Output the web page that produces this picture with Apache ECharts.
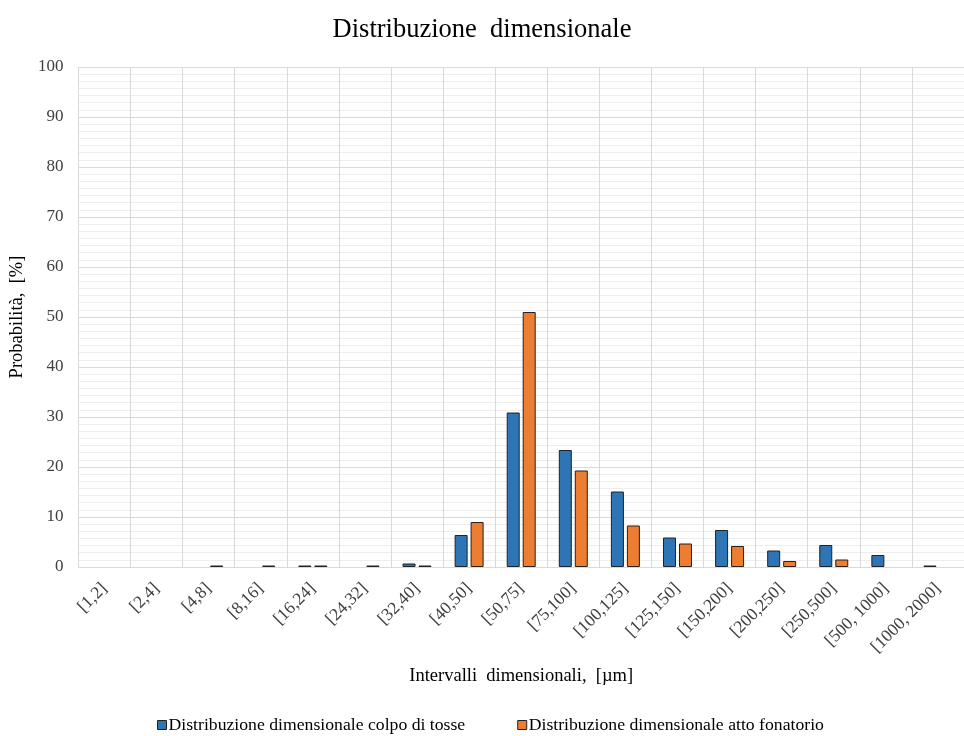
<!DOCTYPE html>
<html><head><meta charset="utf-8">
<script src="https://cdn.jsdelivr.net/npm/echarts@6/dist/echarts.min.js"></script>
<style>html,body{margin:0;padding:0;background:#fff}#c{width:964px;height:736px}</style>
</head><body><div id="c"></div>
<script>
const categories = ['[1,2]','[2,4]','[4,8]','[8,16]','[16,24]','[24,32]','[32,40]','[40,50]','[50,75]','[75,100]','[100,125]','[125,150]','[150,200]','[200,250]','[250,500]','[500, 1000]','[1000, 2000]'];
const tosse = [0, 0, 0, 0, 0.3, 0, 0.7, 6.4, 30.9, 23.4, 15.1, 5.9, 7.4, 3.3, 4.4, 2.4, 0.3];
const fonatorio = [0, 0, 0.3, 0.3, 0.3, 0.3, 0.3, 9.0, 51.0, 19.3, 8.3, 4.7, 4.2, 1.2, 1.5, 0, 0];
const seriesNames = ['Distribuzione dimensionale colpo di tosse', 'Distribuzione dimensionale atto fonatorio'];
const yTicks = [0, 10, 20, 30, 40, 50, 60, 70, 80, 90, 100];

const F = '"Liberation Serif", "DejaVu Serif", serif';
const toData = arr => arr.map(v => ({value: v, itemStyle: {borderWidth: v ? 1 : 0, opacity: v ? 1 : 0}}));
const chart = echarts.init(document.getElementById('c'), null, {renderer: 'canvas'});
chart.setOption({
  animation: false,
  backgroundColor: '#fff',
  title: {
    text: 'Distribuzione  dimensionale', left: 'center', top: 12,
    textStyle: {fontFamily: F, fontSize: 26.5, fontWeight: 'normal', color: '#000'}
  },
  legend: {
    left: 152, top: 711, itemGap: 52, itemWidth: 9, itemHeight: 9,
    icon: 'rect',
    textStyle: {fontFamily: F, fontSize: 17.7, color: '#000', padding: [0, 0, 0, -3]},
    data: seriesNames.map(n => ({name: n, itemStyle: {borderColor: '#222', borderWidth: 1}}))
  },
  grid: {left: 78, top: 67, width: 891, height: 500},
  xAxis: {
    type: 'category', data: categories,
    name: 'Intervalli  dimensionali,  [µm]', nameLocation: 'middle', nameGap: 100,
    nameTextStyle: {fontFamily: F, fontSize: 18.5, color: '#000'},
    axisLine: {show: true, lineStyle: {color: '#d9d9d9', width: 1}},
    axisTick: {show: false},
    axisLabel: {interval: 0, rotate: 45, margin: 19, fontFamily: F, fontSize: 17.5, color: '#404040'},
    splitLine: {show: true, interval: 0, lineStyle: {color: '#d9d9d9', width: 1}}
  },
  yAxis: {
    type: 'value', min: 0, max: 100, interval: 10,
    name: 'Probabilità,  [%]', nameLocation: 'middle', nameGap: 40, nameRotate: 90,
    nameTextStyle: {fontFamily: F, fontSize: 18.5, color: '#000'},
    axisLine: {show: false}, axisTick: {show: false},
    axisLabel: {fontFamily: F, fontSize: 17, color: '#404040', margin: 15,
      formatter: v => yTicks.includes(v) ? String(v) : ''},
    splitLine: {show: true, lineStyle: {color: '#d9d9d9', width: 1}},
    minorTick: {show: false, splitNumber: 7},
    minorSplitLine: {show: true, lineStyle: {color: '#eeeeee', width: 1}}
  },
  series: [
    {name: seriesNames[0], type: 'bar', data: toData(tosse), barWidth: 13, barGap: '23%',
     itemStyle: {color: '#2e75b6', borderColor: '#222', borderWidth: 1}},
    {name: seriesNames[1], type: 'bar', data: toData(fonatorio), barWidth: 13,
     itemStyle: {color: '#ed7d31', borderColor: '#222', borderWidth: 1}}
  ]
});
</script></body></html>
